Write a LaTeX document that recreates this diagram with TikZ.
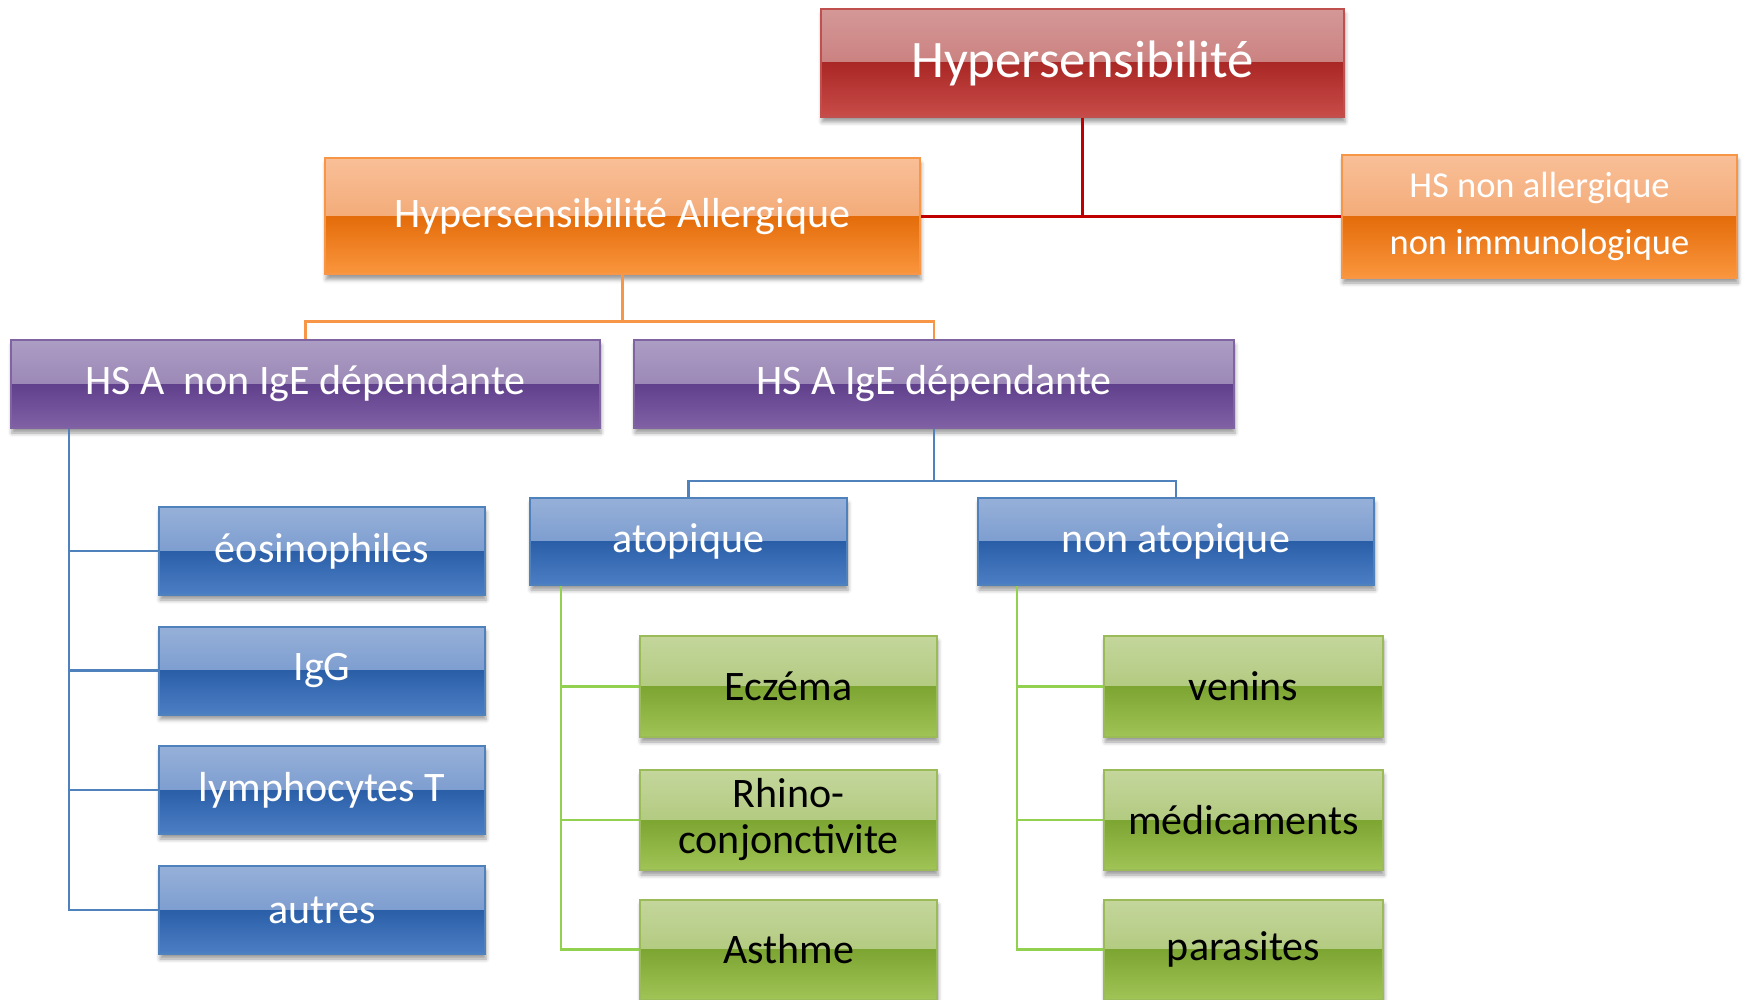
\documentclass[tikz,border=0pt]{standalone}
\usepackage{fontspec}
\setmainfont{Carlito}
\usetikzlibrary{shadows,shadows.blur,calc}
\definecolor{rT}{RGB}{212,152,151}\definecolor{rM}{RGB}{194,108,106}\definecolor{rD}{RGB}{170,40,38}\definecolor{rB}{RGB}{200,76,73}\definecolor{rE}{RGB}{192,80,77}
\definecolor{oT}{RGB}{249,191,151}\definecolor{oM}{RGB}{238,152,92}\definecolor{oD}{RGB}{228,108,10}\definecolor{oB}{RGB}{250,150,62}\definecolor{oE}{RGB}{247,150,70}
\definecolor{pT}{RGB}{172,157,196}\definecolor{pM}{RGB}{140,116,170}\definecolor{pD}{RGB}{96,64,140}\definecolor{pB}{RGB}{128,97,165}\definecolor{pE}{RGB}{128,100,162}
\definecolor{bT}{RGB}{150,176,216}\definecolor{bM}{RGB}{102,140,200}\definecolor{bD}{RGB}{42,95,168}\definecolor{bB}{RGB}{76,126,196}\definecolor{bE}{RGB}{79,129,189}
\definecolor{gT}{RGB}{196,214,156}\definecolor{gM}{RGB}{162,191,102}\definecolor{gD}{RGB}{125,165,50}\definecolor{gB}{RGB}{160,196,86}\definecolor{gE}{RGB}{155,187,89}
\definecolor{redL}{RGB}{192,0,0}\definecolor{orL}{RGB}{247,150,70}\definecolor{blL}{RGB}{79,129,189}\definecolor{grL}{RGB}{146,208,80}
\tikzset{
  glossy/.style n args={5}{rectangle, draw=#5, line width=2pt, inner sep=0pt, align=center,
    blur shadow={shadow xshift=1pt, shadow yshift=-5pt, shadow blur radius=4pt, shadow opacity=40},
    path picture={
      \fill[top color=#1, bottom color=#2] (path picture bounding box.north west) rectangle (path picture bounding box.east);
      \fill[top color=#3, bottom color=#4] (path picture bounding box.west) rectangle (path picture bounding box.south east);
    }},
  redbox/.style={glossy={rT}{rM}{rD}{rB}{rE}, text=white},
  orbox/.style={glossy={oT}{oM}{oD}{oB}{oE}, text=white},
  pubox/.style={glossy={pT}{pM}{pD}{pB}{pE}, text=white},
  blbox/.style={glossy={bT}{bM}{bD}{bB}{bE}, text=white},
  grbox/.style={glossy={gT}{gM}{gD}{gB}{gE}, text=black},
  txt/.style={font=\fontsize{42}{46}\selectfont},
  redline/.style={draw=redL, line width=3pt},
  orline/.style={draw=orL, line width=2.5pt},
  blline/.style={draw=blL, line width=2.5pt},
  grline/.style={draw=grL, line width=2.5pt},
}
\begin{document}
\begin{tikzpicture}[x=1pt,y=1pt]
\useasboundingbox (0,0) rectangle (1743,-1000);
\clip (0,0) rectangle (1743,-1000);
% nodes
\node[redbox, minimum width=523pt, minimum height=108pt, font=\fontsize{52.7}{60}\selectfont] (top) at (1082.5,-63) {Hypersensibilité};
\node[orbox, txt, minimum width=595pt, minimum height=116pt] (allerg) at (622.5,-216.5) {Hypersensibilité Allergique};
\node[orbox, minimum width=395pt, minimum height=123pt, font=\fontsize{36.5}{57}\selectfont] (nonall) at (1539.5,-216.5) {HS non allergique\\non immunologique};
\node[pubox, txt, minimum width=589pt, minimum height=88pt] (nonige) at (305.5,-384) {HS A~ non IgE dépendante};
\node[pubox, txt, minimum width=600pt, minimum height=88pt] (ige) at (934,-384) {HS A IgE dépendante};
\node[blbox, txt, minimum width=326pt, minimum height=88pt] (b1) at (322,-551) {éosinophiles};
\node[blbox, txt, minimum width=326pt, minimum height=88pt] (b2) at (322,-670.5) {IgG};
\node[blbox, txt, minimum width=326pt, minimum height=88pt] (b3) at (322,-790) {lymphocytes T};
\node[blbox, txt, minimum width=326pt, minimum height=88pt] (b4) at (322,-910) {autres};
\node[blbox, txt, minimum width=317pt, minimum height=87pt] (atop) at (688.5,-541.5) {atopique};
\node[blbox, txt, minimum width=396pt, minimum height=87pt] (natop) at (1176,-541.5) {non atopique};
\node[grbox, txt, minimum width=297pt, minimum height=101pt] (g1) at (788.5,-686.5) {Eczéma};
\node[grbox, txt, minimum width=297pt, minimum height=100pt] (g2) at (788.5,-820) {Rhino-\\conjonctivite};
\node[grbox, txt, minimum width=297pt, minimum height=100pt] (g3) at (788.5,-949.5) {Asthme};
\node[grbox, txt, minimum width=279pt, minimum height=101pt] (h1) at (1243.5,-686.5) {venins};
\node[grbox, txt, minimum width=279pt, minimum height=100pt] (h2) at (1243.5,-820) {médicaments};
\node[grbox, txt, minimum width=279pt, minimum height=100pt] (h3) at (1243.5,-949.5) {parasites};
% connectors
\draw[redline] (top.south) -- (top.south |- allerg.east);
\draw[redline] (allerg.east) -- (allerg.east -| nonall.west);
\path (allerg.south) ++(0,-46) coordinate (oj);
\draw[orline] (allerg.south) -- (oj);
\draw[orline] (nonige.north) |- (oj) -| (ige.north);
\path (ige.south) ++(0,-52) coordinate (bj);
\draw[blline] (ige.south) -- (bj);
\draw[blline] (atop.north) |- (bj) -| (natop.north);
\path (nonige.south west) ++(59,0) coordinate (lt);
\draw[blline] (lt) |- (b1.west);
\draw[blline] (lt) |- (b2.west);
\draw[blline] (lt) |- (b3.west);
\draw[blline] (lt) |- (b4.west);
\path (atop.south west) ++(32,0) coordinate (at);
\draw[grline] (at) |- (g1.west);
\draw[grline] (at) |- (g2.west);
\draw[grline] (at) |- (g3.west);
\path (natop.south west) ++(40,0) coordinate (nt);
\draw[grline] (nt) |- (h1.west);
\draw[grline] (nt) |- (h2.west);
\draw[grline] (nt) |- (h3.west);
\end{tikzpicture}
\end{document}
